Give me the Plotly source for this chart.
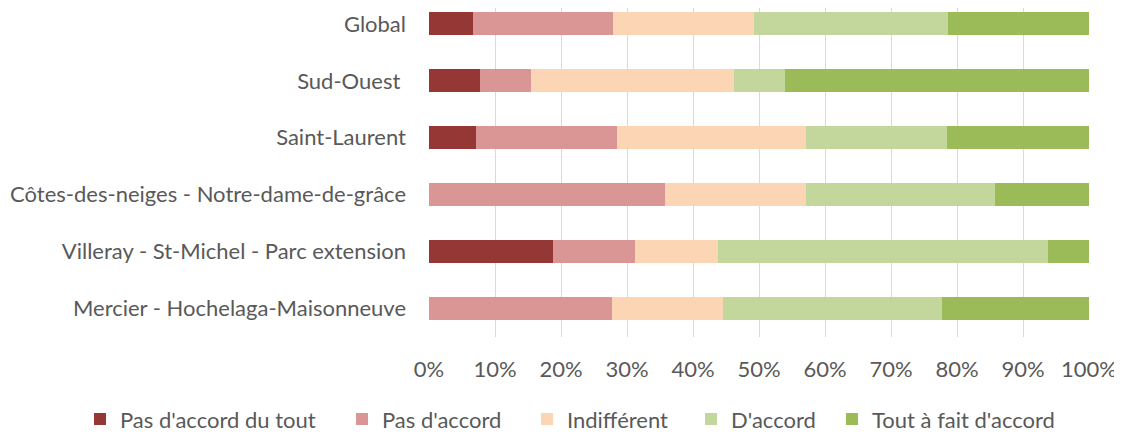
import plotly.graph_objects as go

# Categories, top to bottom
categories = ["Global", "Sud-Ouest\u00a0", "Saint-Laurent",
              "Côtes-des-neiges - Notre-dame-de-grâce",
              "Villeray - St-Michel - Parc extension",
              "Mercier - Hochelaga-Maisonneuve"]

# Shares (%) per answer
pas_du_tout = [6.6, 7.7, 7.1, 0.0, 18.75, 0.0]
pas_accord = [21.3, 7.7, 21.4, 35.7, 12.5, 27.8]
indifferent = [21.4, 30.8, 28.6, 21.4, 12.5, 16.7]
d_accord = [29.4, 7.7, 21.4, 28.6, 50.0, 33.3]
tout_a_fait = [21.3, 46.1, 21.5, 14.3, 6.25, 22.2]

series = [
    ("Pas d'accord du tout", pas_du_tout, "#953735"),
    ("Pas d'accord", pas_accord, "#D99694"),
    ("Indifférent", indifferent, "#FCD5B5"),
    ("D'accord", d_accord, "#C3D69B"),
    ("Tout à fait d'accord", tout_a_fait, "#9BBB59"),
]

# one small legend per series, placed like the original's single row
legend_left = [72, 334, 519, 683, 824]

fig = go.Figure()
legends = {}
for i, (name, vals, color) in enumerate(series):
    key = "legend" if i == 0 else f"legend{i + 1}"
    fig.add_trace(go.Bar(y=categories, x=vals, name=name, orientation="h",
                         legend=key, showlegend=True,
                         marker=dict(color=color, line=dict(width=0))))
    legends[key] = dict(orientation="h", x=legend_left[i] / 1114,
                        xref="container", xanchor="left",
                        y=0.039, yref="container", yanchor="middle",
                        font=dict(size=22, color="#595959"),
                        bgcolor="rgba(0,0,0,0)", visible=True)

fig.update_layout(
    barmode="stack",
    bargap=0.595,
    showlegend=True,
    width=1114, height=428,
    margin=dict(l=421, r=33, t=0, b=99, autoexpand=False),
    plot_bgcolor="white", paper_bgcolor="white",
    font=dict(family="Lato, Open Sans, sans-serif", size=22, color="#595959"),
    xaxis=dict(range=[0, 100], dtick=10, ticksuffix="%",
               showgrid=True, gridcolor="#d9d9d9", gridwidth=1,
               zeroline=False, showline=False,
               ticklabelstandoff=17, fixedrange=True),
    yaxis=dict(range=[5.5, -0.28], showgrid=False, showline=False,
               ticklabelstandoff=22, fixedrange=True),
    **legends,
)

fig.write_html("out.html")
